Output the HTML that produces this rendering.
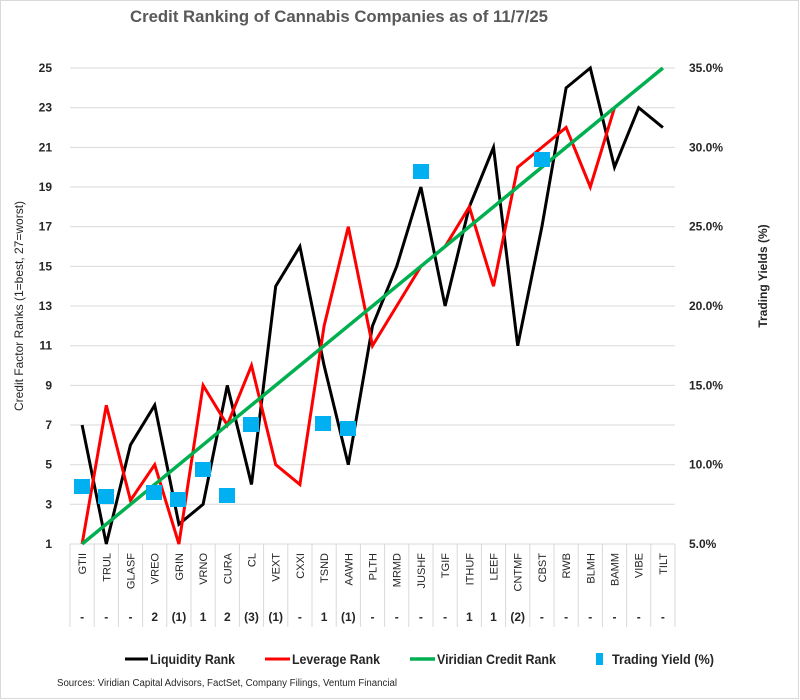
<!DOCTYPE html>
<html><head><meta charset="utf-8"><style>
html,body{margin:0;padding:0;background:#fff}
svg{display:block}
text{font-family:"Liberation Sans Narrow","Liberation Sans",sans-serif}
</style></head><body>
<svg width="800" height="700" viewBox="0 0 800 700" xmlns="http://www.w3.org/2000/svg">
<rect x="0.5" y="0.5" width="798" height="698" fill="#fff" stroke="#d9d9d9"/>
<text x="130" y="22" font-size="17" font-weight="bold" fill="#595959" textLength="418" lengthAdjust="spacingAndGlyphs">Credit Ranking of Cannabis Companies as of 11/7/25</text>
<g stroke="#d9d9d9" stroke-width="1">
<line x1="70" x2="675" y1="68" y2="68"/><line x1="70" x2="675" y1="107.7" y2="107.7"/><line x1="70" x2="675" y1="147.4" y2="147.4"/><line x1="70" x2="675" y1="187" y2="187"/><line x1="70" x2="675" y1="226.7" y2="226.7"/><line x1="70" x2="675" y1="266.4" y2="266.4"/><line x1="70" x2="675" y1="306" y2="306"/><line x1="70" x2="675" y1="345.7" y2="345.7"/><line x1="70" x2="675" y1="385.4" y2="385.4"/><line x1="70" x2="675" y1="425" y2="425"/><line x1="70" x2="675" y1="464.7" y2="464.7"/><line x1="70" x2="675" y1="504.3" y2="504.3"/><line x1="70" x2="675" y1="544" y2="544"/>
<line x1="70" x2="70" y1="544" y2="627"/><line x1="94.2" x2="94.2" y1="544" y2="627"/><line x1="118.4" x2="118.4" y1="544" y2="627"/><line x1="142.6" x2="142.6" y1="544" y2="627"/><line x1="166.8" x2="166.8" y1="544" y2="627"/><line x1="191" x2="191" y1="544" y2="627"/><line x1="215.2" x2="215.2" y1="544" y2="627"/><line x1="239.4" x2="239.4" y1="544" y2="627"/><line x1="263.6" x2="263.6" y1="544" y2="627"/><line x1="287.8" x2="287.8" y1="544" y2="627"/><line x1="312" x2="312" y1="544" y2="627"/><line x1="336.2" x2="336.2" y1="544" y2="627"/><line x1="360.4" x2="360.4" y1="544" y2="627"/><line x1="384.6" x2="384.6" y1="544" y2="627"/><line x1="408.8" x2="408.8" y1="544" y2="627"/><line x1="433" x2="433" y1="544" y2="627"/><line x1="457.2" x2="457.2" y1="544" y2="627"/><line x1="481.4" x2="481.4" y1="544" y2="627"/><line x1="505.6" x2="505.6" y1="544" y2="627"/><line x1="529.8" x2="529.8" y1="544" y2="627"/><line x1="554" x2="554" y1="544" y2="627"/><line x1="578.2" x2="578.2" y1="544" y2="627"/><line x1="602.4" x2="602.4" y1="544" y2="627"/><line x1="626.6" x2="626.6" y1="544" y2="627"/><line x1="650.8" x2="650.8" y1="544" y2="627"/><line x1="675" x2="675" y1="544" y2="627"/>
</g>
<g font-size="12" font-weight="bold" fill="#262626" text-anchor="end">
<text x="52" y="72">25</text><text x="52" y="111.7">23</text><text x="52" y="151.4">21</text><text x="52" y="191">19</text><text x="52" y="230.7">17</text><text x="52" y="270.4">15</text><text x="52" y="310">13</text><text x="52" y="349.7">11</text><text x="52" y="389.4">9</text><text x="52" y="429">7</text><text x="52" y="468.7">5</text><text x="52" y="508.3">3</text><text x="52" y="548">1</text>
</g>
<g font-size="12" font-weight="bold" fill="#262626">
<text x="689" y="72">35.0%</text><text x="689" y="151.4">30.0%</text><text x="689" y="230.7">25.0%</text><text x="689" y="310">20.0%</text><text x="689" y="389.4">15.0%</text><text x="689" y="468.7">10.0%</text><text x="689" y="548">5.0%</text>
</g>
<text transform="translate(23,306) rotate(-90)" font-size="12" fill="#262626" text-anchor="middle">Credit Factor Ranks (1=best, 27=worst)</text>
<text transform="translate(767,276) rotate(-90)" font-size="12" font-weight="bold" fill="#262626" text-anchor="middle">Trading Yields (%)</text>
<g font-size="11" fill="#262626" text-anchor="end">
<text transform="translate(86,553) rotate(-90)">GTII</text><text transform="translate(110.3,553) rotate(-90)">TRUL</text><text transform="translate(134.5,553) rotate(-90)">GLASF</text><text transform="translate(158.7,553) rotate(-90)">VREO</text><text transform="translate(182.9,553) rotate(-90)">GRIN</text><text transform="translate(207.1,553) rotate(-90)">VRNO</text><text transform="translate(231.3,553) rotate(-90)">CURA</text><text transform="translate(255.5,553) rotate(-90)">CL</text><text transform="translate(279.7,553) rotate(-90)">VEXT</text><text transform="translate(303.9,553) rotate(-90)">CXXI</text><text transform="translate(328.1,553) rotate(-90)">TSND</text><text transform="translate(352.3,553) rotate(-90)">AAWH</text><text transform="translate(376.5,553) rotate(-90)">PLTH</text><text transform="translate(400.7,553) rotate(-90)">MRMD</text><text transform="translate(424.9,553) rotate(-90)">JUSHF</text><text transform="translate(449.1,553) rotate(-90)">TGIF</text><text transform="translate(473.3,553) rotate(-90)">ITHUF</text><text transform="translate(497.5,553) rotate(-90)">LEEF</text><text transform="translate(521.7,553) rotate(-90)">CNTMF</text><text transform="translate(545.9,553) rotate(-90)">CBST</text><text transform="translate(570.1,553) rotate(-90)">RWB</text><text transform="translate(594.3,553) rotate(-90)">BLMH</text><text transform="translate(618.5,553) rotate(-90)">BAMM</text><text transform="translate(642.7,553) rotate(-90)">VIBE</text><text transform="translate(666.9,553) rotate(-90)">TILT</text>
</g>
<g font-size="12" font-weight="bold" fill="#262626" text-anchor="middle">
<text x="82.1" y="621">-</text><text x="106.3" y="621">-</text><text x="130.5" y="621">-</text><text x="154.7" y="621">2</text><text x="178.9" y="621">(1)</text><text x="203.1" y="621">1</text><text x="227.3" y="621">2</text><text x="251.5" y="621">(3)</text><text x="275.7" y="621">(1)</text><text x="299.9" y="621">-</text><text x="324.1" y="621">1</text><text x="348.3" y="621">(1)</text><text x="372.5" y="621">-</text><text x="396.7" y="621">-</text><text x="420.9" y="621">-</text><text x="445.1" y="621">-</text><text x="469.3" y="621">1</text><text x="493.5" y="621">1</text><text x="517.7" y="621">(2)</text><text x="541.9" y="621">-</text><text x="566.1" y="621">-</text><text x="590.3" y="621">-</text><text x="614.5" y="621">-</text><text x="638.7" y="621">-</text><text x="662.9" y="621">-</text>
</g>
<polyline fill="none" stroke="#000" stroke-width="3" stroke-linejoin="miter" points="82.1,425 106.3,544 130.5,444.8 154.7,405.2 178.9,524.2 203.1,504.3 227.3,385.4 251.5,484.5 275.7,286.2 299.9,246.5 324.1,365.5 348.3,464.7 372.5,325.9 396.7,266.4 420.9,187 445.1,306 469.3,206.9 493.5,147.4 517.7,345.7 541.9,226.7 566.1,87.9 590.3,68 614.5,167.2 638.7,107.7 662.9,127.5"/>
<polyline fill="none" stroke="#ff0000" stroke-width="3" points="82.1,544 106.3,405.2 130.5,500.4 154.7,464.7 178.9,544 203.1,385.4 227.3,425 251.5,365.5 275.7,464.7 299.9,484.5 324.1,325.9 348.3,226.7 372.5,345.7 396.7,306 420.9,266.4 445.1,246.5 469.3,206.9 493.5,286.2 517.7,167.2 541.9,147.4 566.1,127.5 590.3,187 614.5,107.7"/>
<line x1="82.1" y1="544" x2="662.9" y2="68" stroke="#00b050" stroke-width="3.5"/>
<g fill="#00b0f0">
<rect x="74" y="479" width="16" height="15"/><rect x="98" y="489" width="16" height="15"/><rect x="146" y="485" width="16" height="15"/><rect x="170" y="492" width="16" height="15"/><rect x="195" y="462" width="16" height="15"/><rect x="219" y="488" width="16" height="15"/><rect x="243" y="417" width="16" height="15"/><rect x="315" y="416" width="16" height="15"/><rect x="340" y="421" width="16" height="15"/><rect x="413" y="164" width="16" height="15"/><rect x="534" y="152" width="16" height="15"/>
</g>
<g font-size="14" font-weight="bold" fill="#262626">
<line x1="125" y1="659" x2="148" y2="659" stroke="#000" stroke-width="3"/><text x="150" y="664" textLength="85" lengthAdjust="spacingAndGlyphs">Liquidity Rank</text>
<line x1="265" y1="659" x2="290" y2="659" stroke="#ff0000" stroke-width="3"/><text x="292" y="664" textLength="88" lengthAdjust="spacingAndGlyphs">Leverage Rank</text>
<line x1="410" y1="659" x2="435" y2="659" stroke="#00b050" stroke-width="3.5"/><text x="437" y="664" textLength="119" lengthAdjust="spacingAndGlyphs">Viridian Credit Rank</text>
<rect x="596" y="653" width="7" height="12" fill="#00b0f0"/><text x="612" y="664" textLength="102" lengthAdjust="spacingAndGlyphs">Trading Yield (%)</text>
</g>
<text x="57" y="686" font-size="10" fill="#262626" textLength="340" lengthAdjust="spacingAndGlyphs">Sources: Viridian Capital Advisors, FactSet, Company Filings, Ventum Financial</text>
</svg>
</body></html>
